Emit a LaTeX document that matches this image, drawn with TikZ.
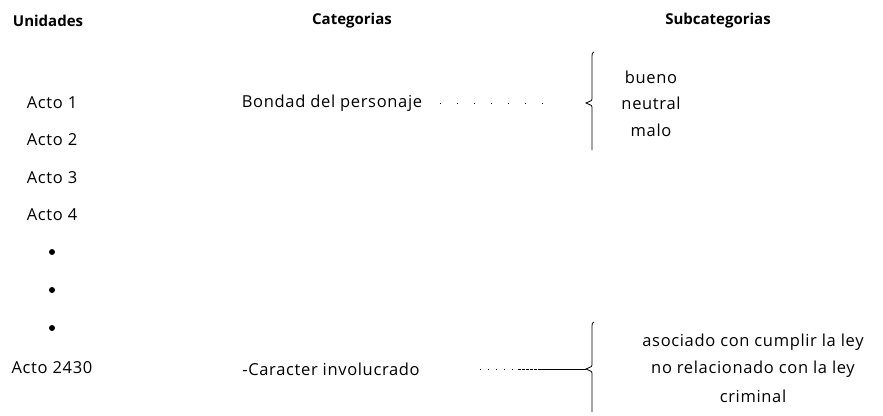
\documentclass[tikz,border=0pt]{standalone}
\usepackage{fontspec}
\setmainfont{Open Sans}
\newfontfamily\spacedtext{Open Sans}[LetterSpace=4]
\begin{document}
\begin{tikzpicture}[x=1pt,y=-1pt,
  txt/.style={font=\spacedtext\fontsize{16.5}{19}\selectfont, inner sep=0pt, anchor=center},
  hdr/.style={font=\fontsize{15}{18}\selectfont\bfseries, inner sep=0pt, anchor=center},
  dotline/.style={line width=0.9pt, dash pattern=on 1pt off 16pt},
  bracepath/.style={line width=0.8pt},
  bullet/.style={circle, fill=black, inner sep=0pt, minimum size=6pt}]
\useasboundingbox (0,0) rectangle (883,415);
% headers
\node[hdr] (hu) at (48,21) {Unidades};
\node[hdr] (hc) at (352,21) {Categorias};
\node[hdr] (hs) at (718,21) {Subcategorias};
% units
\node[txt] (a1) at (52,103) {Acto 1};
\node[txt] (a2) at (52,140) {Acto 2};
\node[txt] (a3) at (52,178) {Acto 3};
\node[txt] (a4) at (52,215) {Acto 4};
\node[bullet] (b1) at (52,252) {};
\node[bullet] (b2) at (52,290) {};
\node[bullet] (b3) at (52,328) {};
\node[txt] (a5) at (52,368) {Acto 2430};
% categories
\node[txt] (bondad) at (332,103) {Bondad del personaje};
\node[txt] (caracter) at (331,369) {-Caracter involucrado};
% subcategories (upper)
\node[txt] (bueno) at (651,77) {bueno};
\node[txt] (neutral) at (651,103) {neutral};
\node[txt] (malo) at (651,130) {malo};
% subcategories (lower)
\node[txt] (s1) at (753,342) {asociado con cumplir la ley};
\node[txt] (s2) at (753,369) {no relacionado con la ley};
\node[txt] (s3) at (753,396) {criminal};
% upper brace
\coordinate (ub) at (586,103);
\coordinate (d1) at (440,103);
\draw[bracepath] (594,52) to[out=180,in=90] (592,56) -- (592,99) to[out=-90,in=45] (586,103) to[out=-45,in=90] (592,107) -- (592,150);
\draw[dotline] (d1) -- ([xshift=-40pt]ub);
% lower brace
\coordinate (lb) at (586,369);
\coordinate (d2) at (480,369);
\coordinate (d3) at (518,369);
\coordinate (d4) at (540,369);
\draw[bracepath] (594,322) to[out=180,in=90] (592,326) -- (592,365) to[out=-90,in=45] (586,369) to[out=-45,in=90] (592,373) -- (592,412);
\draw[line width=0.9pt, dash pattern=on 1pt off 7pt] (d2) -- (d3);
\draw[line width=0.6pt, dash pattern=on 3pt off 1pt] (d3) -- (d4);
\draw[line width=0.8pt] (d4) -- (lb);
\end{tikzpicture}
\end{document}
